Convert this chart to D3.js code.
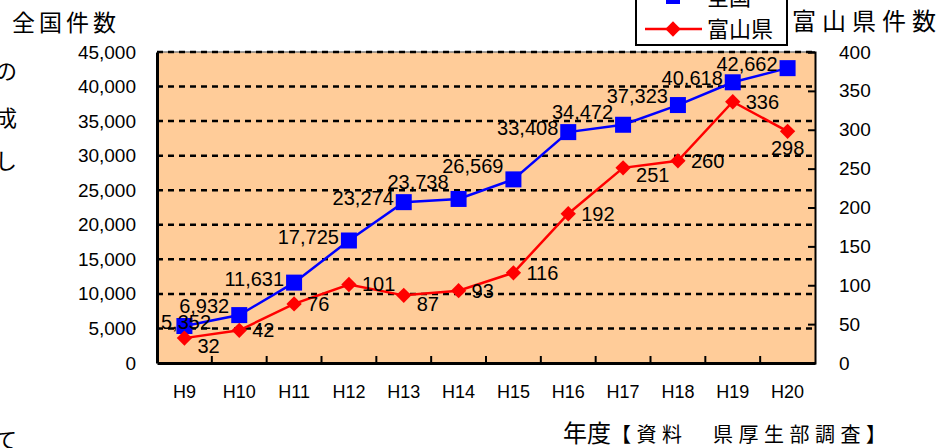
<!DOCTYPE html>
<html>
<head>
<meta charset="utf-8">
<script src="https://cdn.jsdelivr.net/npm/d3@7"></script>
<style>
  body { margin: 0; background: #fff; }
  svg { display: block; }
  text { font-family: "Liberation Sans", Arial, sans-serif; }
  .jp { font-family: "Noto Sans CJK JP", sans-serif; }
</style>
</head>
<body>
<div id="chart"></div>
<script>
// 年度
const years = ["H9", "H10", "H11", "H12", "H13", "H14", "H15", "H16", "H17", "H18", "H19", "H20"];
// 全国件数
const national = [5352, 6932, 11631, 17725, 23274, 23738, 26569, 33408, 34472, 37323, 40618, 42662];
// 富山県件数
const toyama = [32, 42, 76, 101, 87, 93, 116, 192, 251, 260, 336, 298];
// 軸の目盛
const leftTicks = [0, 5000, 10000, 15000, 20000, 25000, 30000, 35000, 40000, 45000];
const rightTicks = [0, 50, 100, 150, 200, 250, 300, 350, 400];

const width = 945, height = 448;
const margin = {top: 52, right: 130, bottom: 85, left: 157};
const blue = "#0000ff", red = "#ff0000";

const svg = d3.select("#chart").append("svg")
  .attr("width", width)
  .attr("height", height);

//scales
const x = d3.scaleBand()
  .domain(years)
  .range([margin.left, width - margin.right])
  .padding(0);
const cx = d => x(d) + x.bandwidth() / 2;

const yL = d3.scaleLinear().domain([0, 45000]).range([height - margin.bottom, margin.top]);
const yR = d3.scaleLinear().domain([0, 400]).range([height - margin.bottom, margin.top]);

//plot background
svg.append("rect")
  .attr("x", margin.left)
  .attr("y", margin.top)
  .attr("width", width - margin.left - margin.right)
  .attr("height", height - margin.top - margin.bottom)
  .attr("fill", "#ffcc99");

//top border (gray)
svg.append("line")
  .attr("x1", margin.left).attr("x2", width - margin.right)
  .attr("y1", margin.top).attr("y2", margin.top)
  .attr("stroke", "#808080").attr("stroke-width", 1.5);

//gridlines (dashed)
svg.append("g").selectAll("line")
  .data(leftTicks.filter(d => d > 0))
  .join("line")
  .attr("x1", margin.left).attr("x2", width - margin.right)
  .attr("y1", d => yL(d)).attr("y2", d => yL(d))
  .attr("stroke", "#000")
  .attr("stroke-width", 2.5)
  .attr("stroke-dasharray", "6,5");

//left axis
const leftAxis = svg.append("g")
  .attr("transform", `translate(${margin.left},0)`)
  .call(d3.axisLeft(yL).tickValues(leftTicks).tickFormat(d3.format(",")).tickSize(0).tickPadding(21));
leftAxis.select(".domain").attr("stroke", "#000").attr("stroke-width", 3);
leftAxis.selectAll("text").style("font-size", "19px").attr("fill", "#000");

//right axis
const rightAxis = svg.append("g")
  .attr("transform", `translate(${width - margin.right},0)`)
  .call(d3.axisRight(yR).tickValues(rightTicks).tickSize(-7).tickPadding(24));
rightAxis.select(".domain").attr("stroke", "#000").attr("stroke-width", 2);
rightAxis.selectAll(".tick line").attr("stroke", "#000").attr("stroke-width", 2);
rightAxis.selectAll("text").style("font-size", "19px").attr("fill", "#000");

//bottom axis
const bottomY = height - margin.bottom;
const xAxis = svg.append("g")
  .attr("transform", `translate(0,${bottomY})`)
  .call(d3.axisBottom(x).tickSize(0).tickPadding(22));
xAxis.select(".domain").attr("stroke", "#000").attr("stroke-width", 3);
xAxis.selectAll("text").style("font-size", "18px").attr("fill", "#000");

// category boundary ticks (inside)
svg.append("g").selectAll("line")
  .data(years.slice(1))
  .join("line")
  .attr("x1", d => x(d)).attr("x2", d => x(d))
  .attr("y1", bottomY).attr("y2", bottomY - 7)
  .attr("stroke", "#000").attr("stroke-width", 2);

//lines
const lineN = d3.line().x((d, i) => cx(years[i])).y(d => yL(d));
const lineT = d3.line().x((d, i) => cx(years[i])).y(d => yR(d));

svg.append("path")
  .datum(national)
  .attr("d", lineN)
  .attr("fill", "none")
  .attr("stroke", blue)
  .attr("stroke-width", 2.5);

svg.append("g").selectAll("rect")
  .data(national)
  .join("rect")
  .attr("x", (d, i) => cx(years[i]) - 8)
  .attr("y", d => yL(d) - 8)
  .attr("width", 16).attr("height", 16)
  .attr("fill", blue);

svg.append("path")
  .datum(toyama)
  .attr("d", lineT)
  .attr("fill", "none")
  .attr("stroke", red)
  .attr("stroke-width", 2.5);

const diamond = d3.symbol().type(d3.symbolDiamond2).size(150);
svg.append("g").selectAll("path")
  .data(toyama)
  .join("path")
  .attr("d", diamond)
  .attr("transform", (d, i) => `translate(${cx(years[i])},${yR(d)})`)
  .attr("fill", red);

//data labels
const plotRight = width - margin.right;
const fmt = d3.format(",");

// 全国: left of the point, kept inside the plot, pushed up if it hits the previous label
let prev = null;
svg.append("g").selectAll("text")
  .data(national)
  .join("text")
  .text(d => fmt(d))
  .style("font-size", "20px")
  .attr("fill", "#000")
  .attr("text-anchor", "middle")
  .attr("dy", "0.35em")
  .each(function(d, i) {
    const w = this.getComputedTextLength();
    const px = Math.max(cx(years[i]) - 10 - w / 2, margin.left + w / 2 + 4);
    let cy = yL(d) - 4;
    if (prev && px - w / 2 < prev.x2 && cy > prev.cy - 14) {
      cy = prev.cy - 16;
    }
    d3.select(this).attr("x", px).attr("y", cy);
    prev = {x2: px + w / 2, cy: cy};
  });

// 富山県: right of the point, below it if the segment to the next point runs through it
svg.append("g").selectAll("text")
  .data(toyama)
  .join("text")
  .text(d => d)
  .style("font-size", "20px")
  .attr("fill", "#000")
  .attr("dy", "0.35em")
  .each(function(d, i) {
    const w = this.getComputedTextLength();
    const px = cx(years[i]);
    const t = d3.select(this);
    if (px + 13 + w > plotRight) {
      t.attr("text-anchor", "middle").attr("x", px).attr("y", yR(d) + 17);
      return;
    }
    let cy = yR(d);
    if (i < toyama.length - 1) {
      const nx = cx(years[i + 1]), ny = yR(toyama[i + 1]);
      const mid = px + 13 + w / 2;
      const ly = yR(d) + (ny - yR(d)) * (mid - px) / (nx - px);
      if (ly > cy - 5 && ly < cy + 5) cy = ly + 11;
    }
    t.attr("text-anchor", "start").attr("x", px + 13).attr("y", cy);
  });

//axis titles
svg.append("text")
  .attr("class", "jp")
  .attr("x", 12).attr("y", 31)
  .style("font-size", "23px")
  .style("letter-spacing", "4px")
  .attr("fill", "#000")
  .text("全国件数");

svg.append("text")
  .attr("class", "jp")
  .attr("x", 792).attr("y", 30)
  .style("font-size", "24px")
  .style("letter-spacing", "6px")
  .attr("fill", "#000")
  .text("富山県件数");

const foot = svg.append("text")
  .attr("class", "jp")
  .attr("x", 563).attr("y", 442)
  .attr("fill", "#000");
foot.append("tspan").style("font-size", "24px").text("年度");
foot.append("tspan").style("font-size", "20px").style("letter-spacing", "5.5px").text("【資料　県厚生部調査】");

//title (cut off at top)
svg.append("text")
  .attr("class", "jp")
  .attr("x", 426).attr("y", -4)
  .attr("text-anchor", "middle")
  .style("font-size", "28px")
  .attr("fill", red)
  .text("児童虐待相談件数の推移");

//legend (partly cut off)
const legend = svg.append("g");
legend.append("rect")
  .attr("x", 636).attr("y", -45)
  .attr("width", 151).attr("height", 90)
  .attr("fill", "#fff")
  .attr("stroke", "#000")
  .attr("stroke-width", 2);

const legendItems = [
  {name: "全国", color: blue, y: -3, shape: "square"},
  {name: "富山県", color: red, y: 29, shape: "diamond"}
];
legendItems.forEach(it => {
  legend.append("line")
    .attr("x1", 645).attr("x2", 702)
    .attr("y1", it.y).attr("y2", it.y)
    .attr("stroke", it.color).attr("stroke-width", 2.5);
  if (it.shape == "square") {
    legend.append("rect")
      .attr("x", 666).attr("y", it.y - 7)
      .attr("width", 14).attr("height", 14)
      .attr("fill", it.color);
  } else {
    legend.append("path")
      .attr("d", diamond)
      .attr("transform", `translate(673,${it.y})`)
      .attr("fill", it.color);
  }
  legend.append("text")
    .attr("class", "jp")
    .attr("x", 707).attr("y", it.y)
    .attr("dy", "0.36em")
    .style("font-size", "22px")
    .attr("fill", "#000")
    .text(it.name);
});

//surrounding document text (cut at left edge)
const sideText = [
  {t: "の", y: 71},
  {t: "成", y: 118},
  {t: "し", y: 161},
  {t: "て", y: 440}
];
svg.append("g").selectAll("text")
  .data(sideText)
  .join("text")
  .attr("class", "jp")
  .attr("x", 17)
  .attr("y", d => d.y)
  .attr("dy", "0.36em")
  .attr("text-anchor", "end")
  .style("font-size", "22px")
  .attr("fill", "#000")
  .text(d => d.t);
</script>
</body>
</html>
